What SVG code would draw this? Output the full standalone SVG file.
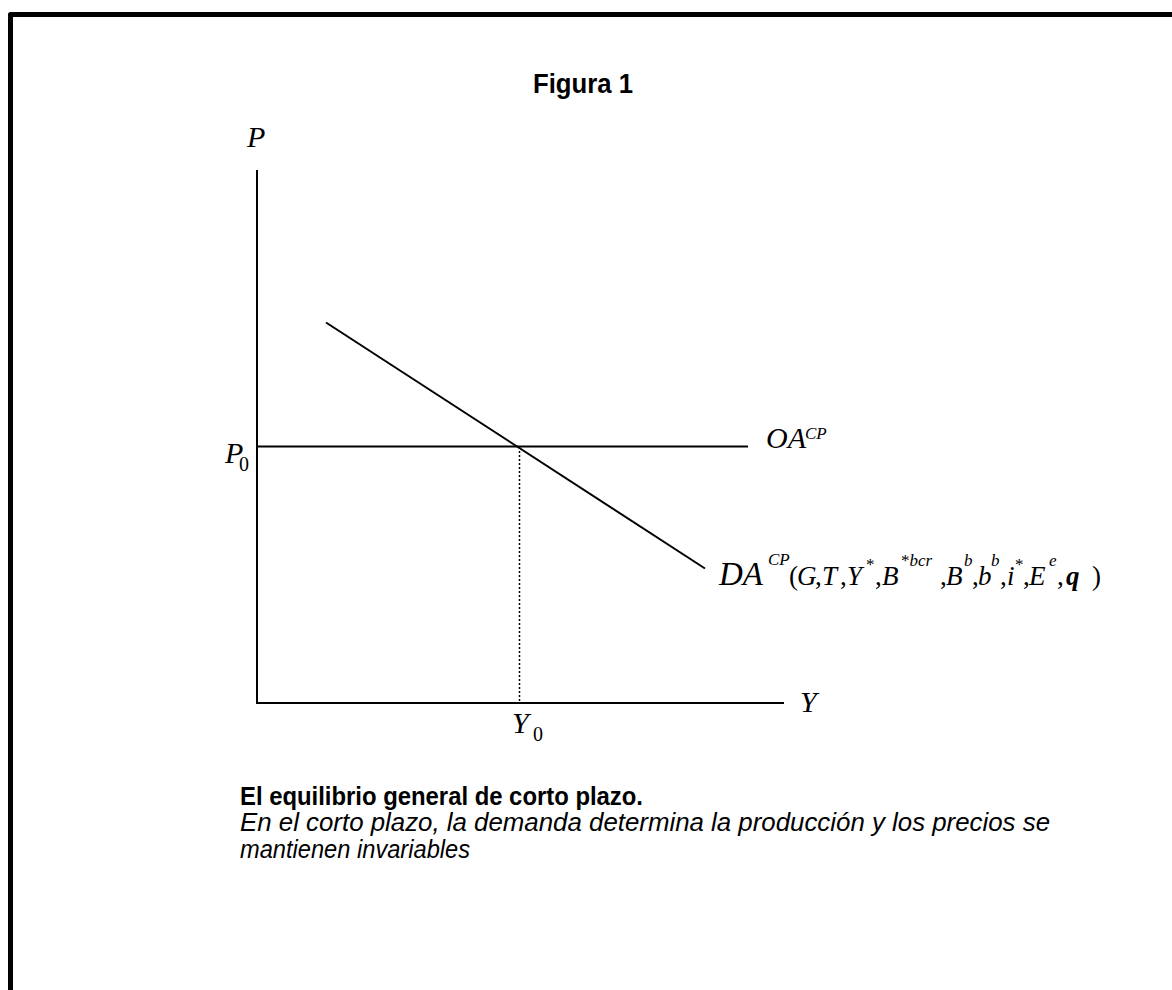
<svg xmlns="http://www.w3.org/2000/svg" width="1172" height="990" viewBox="0 0 1172 990">
<style>
.ax{stroke:#000;stroke-width:2;fill:none}
.m{font-family:"Liberation Serif","Times New Roman",serif;font-style:italic;font-size:30px;fill:#000}
.a{font-size:27px}
.up{font-style:normal}
.sup{font-size:17px}
.sub{font-size:20px;font-style:normal}
.sans{font-family:"Liberation Sans Narrow","Liberation Sans",Arial,sans-serif;fill:#000}
</style>
<rect width="1172" height="990" fill="#fff"/>
<path d="M10.5,990 V14.5 H1172" fill="none" stroke="#000" stroke-width="5" stroke-linejoin="round"/>
<g id="title"><text class="sans" x="533" y="93" font-size="28" font-weight="bold" textLength="100" lengthAdjust="spacingAndGlyphs">Figura 1</text></g>
<g id="connectors">
<line class="ax" x1="257" y1="170" x2="257" y2="704"/>
<line class="ax" x1="256" y1="703" x2="784" y2="703"/>
<line class="ax" x1="257" y1="446.5" x2="748" y2="446.5"/>
<line class="ax" x1="326" y1="322.5" x2="705" y2="568.5"/>
<line x1="519.5" y1="447" x2="519.5" y2="703" stroke="#000" stroke-width="1.5" stroke-dasharray="2,2"/>
</g>
<g id="label-P"><text class="m" x="247" y="147">P</text></g>
<g id="label-P0"><text class="m" x="225" y="463">P</text><text class="m sub" x="239" y="471">0</text></g>
<g id="label-Y"><text class="m" x="800" y="712">Y</text></g>
<g id="label-Y0"><text class="m" x="512" y="733">Y</text><text class="m sub" x="533" y="741">0</text></g>
<g id="label-OA"><text class="m" x="766" y="448">OA</text><text class="m sup" x="805" y="439">CP</text></g>
<g id="label-DA">
<text class="m" y="585"><tspan x="719" style="font-size:33px">DA</tspan><tspan class="sup" x="768" y="565">CP</tspan><tspan class="a"><tspan class="up" x="789" y="585">(</tspan><tspan x="797">G</tspan><tspan class="up" x="815">,</tspan><tspan x="822">T</tspan><tspan class="up" x="840">,</tspan><tspan x="847">Y</tspan><tspan class="up sup" x="866" y="570">*</tspan><tspan class="up" x="875" y="585">,</tspan><tspan x="882">B</tspan><tspan class="sup" x="901" y="566"><tspan class="up">*</tspan>bcr</tspan><tspan class="up" x="940" y="585">,</tspan><tspan x="946">B</tspan><tspan class="sup" x="964" y="566">b</tspan><tspan class="up" x="972" y="585">,</tspan><tspan x="978">b</tspan><tspan class="sup" x="991" y="566">b</tspan><tspan class="up" x="1000" y="585">,</tspan><tspan x="1007">i</tspan><tspan class="up sup" x="1015" y="570">*</tspan><tspan class="up" x="1023" y="585">,</tspan><tspan x="1029">E</tspan><tspan class="sup" x="1049" y="566">e</tspan><tspan class="up" x="1057" y="585">,</tspan><tspan x="1066" font-weight="bold">q</tspan><tspan class="up" x="1092">)</tspan></tspan></text>
</g>
<g id="caption">
<text class="sans" x="240" y="805" font-size="26" font-weight="bold" textLength="403" lengthAdjust="spacingAndGlyphs">El equilibrio general de corto plazo.</text>
<text class="sans" x="240" y="831" font-size="25" font-style="italic" textLength="810" lengthAdjust="spacingAndGlyphs">En el corto plazo, la demanda determina la producción y los precios se</text>
<text class="sans" x="240" y="858" font-size="25" font-style="italic" textLength="230" lengthAdjust="spacingAndGlyphs">mantienen invariables</text>
</g>
</svg>
